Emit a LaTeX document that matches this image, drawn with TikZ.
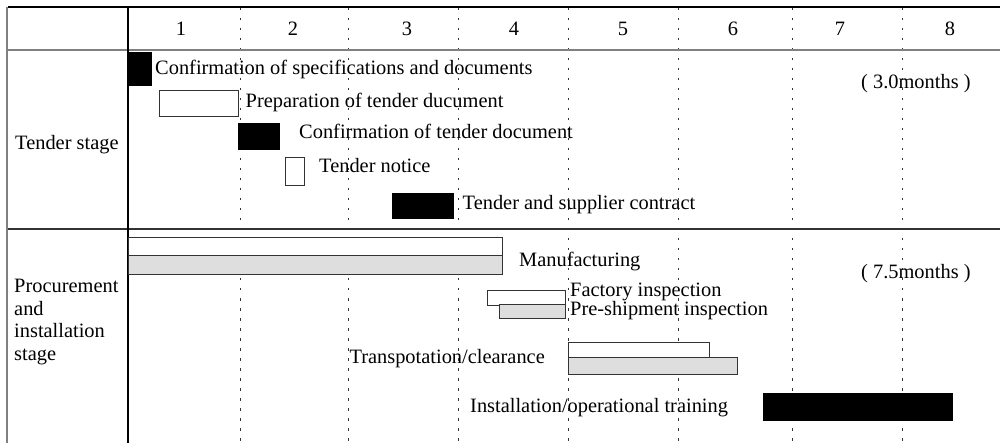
\documentclass[tikz,border=0pt]{standalone}
\usepackage{fontspec}
\setmainfont{Liberation Serif}
\begin{document}
\begin{tikzpicture}[x=1pt,y=-1pt]
\tikzset{
  txt/.style={font=\fontsize{20.4}{22}\selectfont, inner sep=0pt, anchor=base west},
  monthlabel/.style={font=\fontsize{20.4}{22}\selectfont, inner sep=0pt, anchor=base},
  framerule/.style={line width=1.3pt, draw=black},
  grayrule/.style={line width=2pt, draw=black!50},
  stagerule/.style={line width=1.5pt, draw=black!80},
  monthsep/.style={line width=1pt, draw=black!80, dash pattern=on 2.5pt off 7.5pt},
  barblack/.style={fill=black, draw=black, line width=0.8pt},
  barwhite/.style={fill=white, draw=black!80, line width=0.8pt},
  bargray/.style={fill=black!13, draw=black!80, line width=0.8pt},
}
\useasboundingbox (0,0) rectangle (1000,443);

% dotted month separators
\foreach \xx in {240,348,458,568,678,792,902}
  \draw[monthsep] (\xx,8) -- (\xx,443);

% table frame
\draw[framerule] (8,7) -- (1000,7);
\draw[grayrule] (7,7) -- (7,443);
\draw[grayrule] (8,50) -- (1000,50);
\draw[stagerule] (8,229) -- (1000,229);
\draw[line width=1.2pt] (128,7) -- (128,443);

% month numbers
\foreach \n/\xx in {1/181,2/293,3/407,4/514,5/623,6/733,7/840,8/950}
  \node[monthlabel] (m\n) at (\xx,36) {\n};

% tender stage
\node[txt] (tender) at (15,150) {Tender stage};
\draw[barblack] (128,52) rectangle (151,85);
\node[txt] (t1) at (155,75) {Confirmation of specifications and documents};
\draw[barwhite] (159,90) rectangle (238,116);
\node[txt] (t2) at (245.5,108) {Preparation of tender ducument};
\draw[barblack] (238,123) rectangle (279,149);
\node[txt] (t3) at (299,139) {Confirmation of tender document};
\draw[barwhite] (285,157) rectangle (304,185);
\node[txt] (t4) at (319,173) {Tender notice};
\draw[barblack] (392,193) rectangle (453,218);
\node[txt] (t5) at (462.5,210) {Tender and supplier contract};
\node[txt] (d1) at (861,89) {( 3.0months )};

% procurement and installation stage
\node[txt] (p1) at (14,293) {Procurement};
\node[txt] (p2) at (14,315) {and};
\node[txt] (p3) at (14,337) {installation};
\node[txt] (p4) at (14,360) {stage};

\draw[barwhite] (128,237) rectangle (502,255);
\draw[bargray] (128,255) rectangle (502,274);
\node[txt] (s1) at (519,267) {Manufacturing};

\draw[barwhite] (487,290) rectangle (565,305);
\draw[bargray] (499,304) rectangle (565,318);
\node[txt] (s2) at (570,297) {Factory inspection};
\node[txt] (s3) at (570,316) {Pre-shipment inspection};

\draw[barwhite] (568,342) rectangle (709,357);
\draw[bargray] (568,357) rectangle (737,374);
\node[txt, anchor=base east] (s4) at (545,363) {Transpotation/clearance};

\draw[barblack] (763,393) rectangle (952,420);
\node[txt] (s5) at (470,412) {Installation/operational training};
\node[txt] (d2) at (861,279) {( 7.5months )};
\end{tikzpicture}
\end{document}
